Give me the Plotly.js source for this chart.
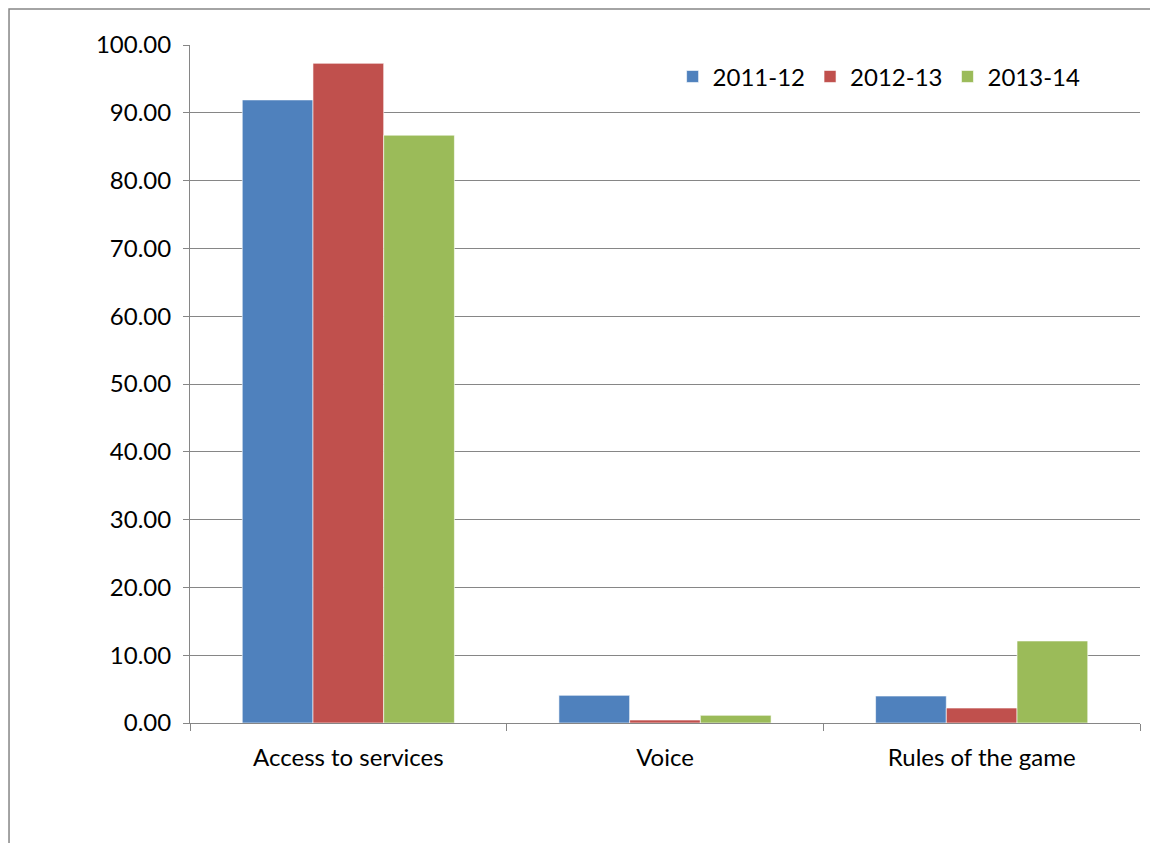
<!DOCTYPE html>
<html>
<head>
<meta charset="utf-8">
<script src="https://cdn.plot.ly/plotly-3.0.1.min.js"></script>
<style>
html,body{margin:0;padding:0;background:#fff;}
#chart{width:1150px;height:843px;}
</style>
</head>
<body>
<div id="chart"></div>
<script>
const categories = ["Access to services", "Voice", "Rules of the game"];
const seriesNames = ["2011-12", "2012-13", "2013-14"];
const values2011 = [91.9, 4.08, 3.98];
const values2012 = [97.3, 0.44, 2.21];
const values2013 = [86.7, 1.13, 12.1];
const yTicks = [0, 10, 20, 30, 40, 50, 60, 70, 80, 90, 100];
const colors = ["#4F81BD", "#C0504D", "#9BBB59"];

const font = "Lato, Open Sans, sans-serif";
const fsize = 24;
const allValues = [values2011, values2012, values2013];
const traces = allValues.map((v, i) => ({
  type: "bar",
  name: seriesNames[i],
  x: categories,
  y: v,
  marker: {color: colors[i], line: {color: "rgba(255,255,255,0.6)", width: 1}},
  hoverinfo: "x+y+name"
}));

const layout = {
  width: 1150, height: 843,
  margin: {l: 190, r: 10, t: 45, b: 120},
  paper_bgcolor: "#fff", plot_bgcolor: "#fff",
  font: {family: font, size: fsize, color: "#000"},
  barmode: "group",
  bargap: 0.33,
  bargroupgap: 0,
  showlegend: true,
  legend: {orientation: "h", x: 0.508, xanchor: "left", y: 0.953, yanchor: "middle",
           font: {family: font, size: fsize, color: "#000"}, itemwidth: 30, traceorder: "normal",
           bgcolor: "rgba(0,0,0,0)"},
  xaxis: {
    type: "category",
    tickson: "boundaries",
    ticks: "outside", ticklen: 7, tickcolor: "#868686", tickwidth: 1,
    showline: true, linecolor: "#868686", linewidth: 1,
    showgrid: false, zeroline: false,
    ticklabelstandoff: 13,
    tickfont: {family: font, size: fsize, color: "#000"}
  },
  yaxis: {
    range: [0, 100],
    tickvals: yTicks,
    tickformat: ".2f",
    ticks: "outside", ticklen: 6, tickcolor: "#868686", tickwidth: 1,
    showline: true, linecolor: "#868686", linewidth: 1,
    showgrid: true, gridcolor: "#868686", gridwidth: 1,
    zeroline: false,
    ticklabelstandoff: 7,
    tickfont: {family: font, size: fsize, color: "#000"}
  },
  shapes: [{
    type: "rect", xref: "paper", yref: "paper",
    x0: -0.1905, x1: 1.03, y0: -0.3, y1: 1.0531,
    line: {color: "#868686", width: 1.5}, fillcolor: "rgba(0,0,0,0)", layer: "below"
  }]
};

Plotly.newPlot("chart", traces, layout, {displayModeBar: false, staticPlot: true});
</script>
</body>
</html>
